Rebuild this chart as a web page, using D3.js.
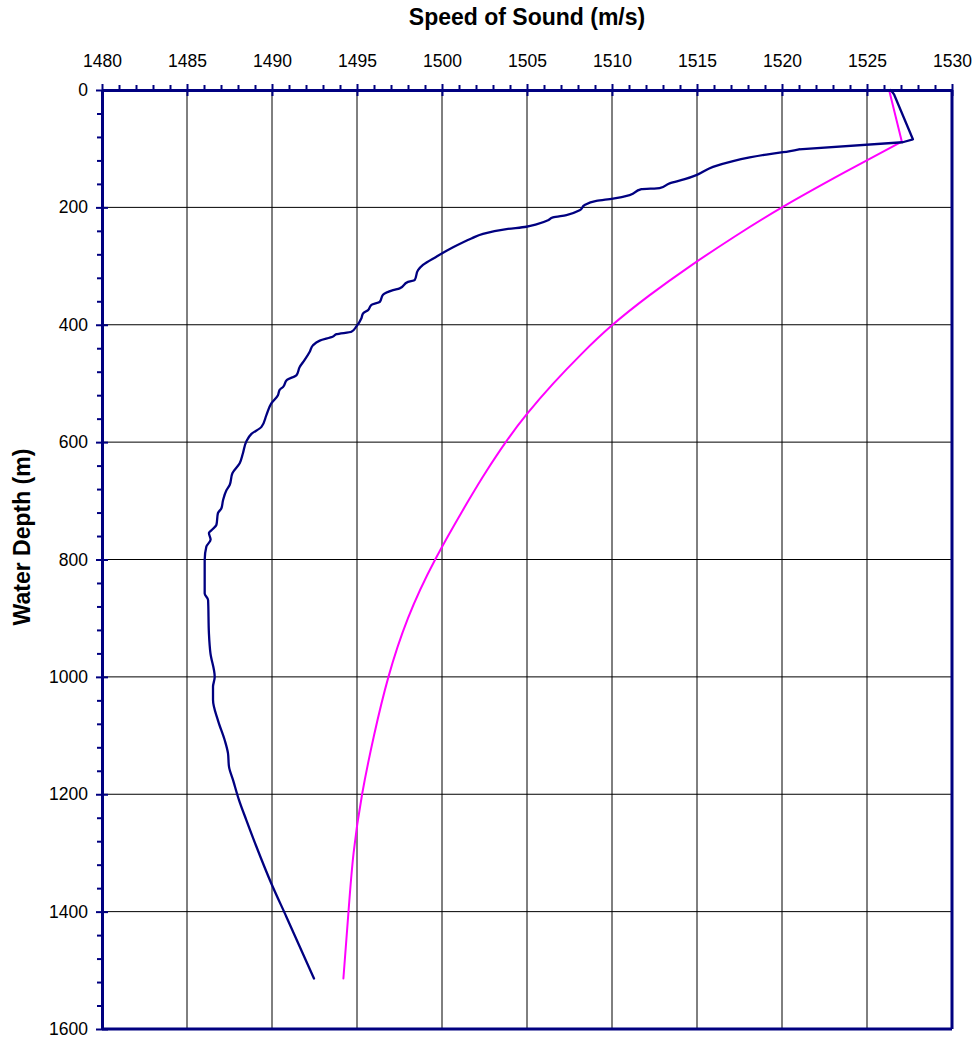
<!DOCTYPE html>
<html>
<head>
<meta charset="utf-8">
<script src="https://cdn.jsdelivr.net/npm/d3@7/dist/d3.min.js"></script>
<style>
  html, body { margin: 0; padding: 0; background: #ffffff; }
  svg { display: block; }
  text { font-family: "Liberation Sans", Arial, sans-serif; fill: #000; }
</style>
</head>
<body>
<svg id="chart" width="979" height="1038"></svg>
<script>
// ---------- data ----------
const xTickValues = [1480, 1485, 1490, 1495, 1500, 1505, 1510, 1515, 1520, 1525, 1530];
const yTickValues = [0, 200, 400, 600, 800, 1000, 1200, 1400, 1600];

// measured profile (navy)
const measuredDepth = [0, 8, 84, 89, 101, 106, 110, 115, 121, 131, 145, 152, 159, 167, 169, 179, 185, 189, 196, 205,
  213, 217, 222, 229, 233, 237, 245, 253, 268, 284, 298, 307, 324, 327, 338, 341, 349, 361, 366, 375,
  381, 389, 403, 412, 416, 420, 427, 435, 446, 460, 472, 486, 494, 506, 511, 520, 534, 554, 574, 586,
  599, 619, 636, 653, 673, 682, 699, 713, 721, 741, 750, 755, 766, 778, 801, 858, 869, 926, 960, 1000,
  1017, 1039, 1074, 1108, 1130, 1153, 1176, 1210, 1244, 1289, 1352, 1409, 1514];
const measuredSpeed = [1526.4, 1526.6, 1527.7, 1527.1, 1521.0, 1520.06, 1519.08, 1518.1, 1517.12, 1515.94, 1514.96, 1514.28, 1513.39, 1512.8, 1511.73, 1511.04, 1510.06, 1509.08, 1508.39, 1508.1,
  1507.32, 1506.53, 1506.24, 1505.55, 1504.96, 1503.79, 1502.41, 1501.73, 1500.65, 1499.67, 1498.88, 1498.59, 1498.39, 1498.0, 1497.51, 1497.12, 1496.53, 1496.34, 1495.85, 1495.65,
  1495.35, 1495.26, 1494.96, 1494.67, 1493.79, 1493.59, 1492.81, 1492.41, 1492.22, 1491.92, 1491.63, 1491.44, 1490.88, 1490.65, 1490.45, 1490.35, 1489.96, 1489.67, 1489.38, 1488.79,
  1488.49, 1488.29, 1488.1, 1487.67, 1487.51, 1487.32, 1487.12, 1487.02, 1486.82, 1486.73, 1486.44, 1486.29, 1486.39, 1486.14, 1486.04, 1486.04, 1486.24, 1486.29, 1486.38, 1486.63,
  1486.53, 1486.53, 1486.82, 1487.22, 1487.41, 1487.47, 1487.71, 1488.06, 1488.49, 1489.08, 1489.96, 1490.85, 1492.47];

// modelled profile (magenta)
const modelDepth = [0, 88, 140, 200, 250, 300, 350, 401, 450, 500, 552, 600, 650, 700, 800, 900,
  1000, 1100, 1200, 1300, 1400, 1514];
const modelSpeed = [1526.3, 1527.05, 1523.7, 1520.0, 1517.2, 1514.6, 1512.2, 1510.0, 1508.2, 1506.55, 1505.0, 1503.75, 1502.6, 1501.55, 1499.6, 1498.0,
  1496.85, 1496.0, 1495.3, 1494.8, 1494.5, 1494.2];

const xTitle = "Speed of Sound (m/s)";
const yTitle = "Water Depth (m)";

// ---------- layout ----------
(function () {
  const svg = d3.select("#chart");
  const pL = 102, pR = 952, pT = 90, pB = 1029;
  const navy = "#000080", magenta = "#ff00ff";
  const fmt = d3.format("d");

  const x = d3.scaleLinear().domain([1480, 1530]).range([pL, pR]);
  const y = d3.scaleLinear().domain([0, 1600]).range([pT, pB]);

  // gridlines
  const grid = svg.append("g");
  grid.selectAll("line.v").data(xTickValues.slice(1, -1)).join("line").attr("class", "v")
    .attr("x1", d => x(d)).attr("x2", d => x(d)).attr("y1", pT).attr("y2", pB)
    .attr("stroke", "#000").attr("stroke-width", 1);
  grid.selectAll("line.h").data(yTickValues.slice(1, -1)).join("line").attr("class", "h")
    .attr("y1", d => y(d)).attr("y2", d => y(d)).attr("x1", pL).attr("x2", pR)
    .attr("stroke", "#000").attr("stroke-width", 1);

  // series: a sharp corner near 85-100 m, smooth below
  const straight = d3.line();
  function profilePath(depths, speeds, breakIndex, curve) {
    const pts = depths.map((d, i) => [x(speeds[i]), y(d)]);
    return straight(pts.slice(0, breakIndex + 1)) + d3.line().curve(curve)(pts.slice(breakIndex));
  }

  svg.append("path").attr("d", profilePath(modelDepth, modelSpeed, 1, d3.curveNatural))
    .attr("fill", "none").attr("stroke", magenta).attr("stroke-width", 2)
    .attr("stroke-linejoin", "round").attr("stroke-linecap", "round");
  svg.append("path").attr("d", profilePath(measuredDepth, measuredSpeed, 4, d3.curveMonotoneY))
    .attr("fill", "none").attr("stroke", navy).attr("stroke-width", 2.3)
    .attr("stroke-linejoin", "round").attr("stroke-linecap", "round");

  // frame (right & bottom)
  svg.append("line").attr("x1", pR).attr("x2", pR).attr("y1", pT).attr("y2", pB)
    .attr("stroke", navy).attr("stroke-width", 3);
  svg.append("line").attr("x1", pL).attr("x2", pR).attr("y1", pB).attr("y2", pB)
    .attr("stroke", navy).attr("stroke-width", 3);

  // x axis (top)
  const xMinor = d3.range(1480, 1531, 1).filter(v => v % 5 !== 0);
  const xMinorAxis = svg.append("g").attr("transform", `translate(0,${pT})`)
    .call(d3.axisTop(x).tickValues(xMinor).tickSize(5).tickFormat(""));
  xMinorAxis.select(".domain").remove();
  xMinorAxis.selectAll("line").attr("stroke", navy).attr("stroke-width", 2);

  const xAxis = svg.append("g").attr("transform", `translate(0,${pT})`)
    .call(d3.axisTop(x).tickValues(xTickValues).tickFormat(fmt).tickSize(6).tickPadding(17).tickSizeOuter(0));
  xAxis.select(".domain").attr("stroke", navy).attr("stroke-width", 3);
  xAxis.selectAll(".tick line").attr("y1", 6).attr("y2", -6).attr("stroke", navy).attr("stroke-width", 2);
  xAxis.selectAll("text").attr("font-size", 17.5).attr("font-family", "Liberation Sans, Arial, sans-serif").attr("fill", "#000");

  // y axis (left)
  const yMinor = d3.range(0, 1601, 40).filter(v => v % 200 !== 0);
  const yMinorAxis = svg.append("g").attr("transform", `translate(${pL},0)`)
    .call(d3.axisLeft(y).tickValues(yMinor).tickSize(5).tickFormat(""));
  yMinorAxis.select(".domain").remove();
  yMinorAxis.selectAll("line").attr("stroke", navy).attr("stroke-width", 2);

  const yAxis = svg.append("g").attr("transform", `translate(${pL},0)`)
    .call(d3.axisLeft(y).tickValues(yTickValues).tickFormat(fmt).tickSize(6).tickPadding(8).tickSizeOuter(0));
  yAxis.select(".domain").attr("stroke", navy).attr("stroke-width", 3);
  yAxis.selectAll(".tick line").attr("x1", 6).attr("x2", -6).attr("stroke", navy).attr("stroke-width", 2);
  yAxis.selectAll("text").attr("font-size", 17.5).attr("font-family", "Liberation Sans, Arial, sans-serif").attr("fill", "#000");

  // titles
  svg.append("text").attr("x", (pL + pR) / 2).attr("y", 25)
    .attr("text-anchor", "middle").attr("font-size", 23).attr("font-weight", "bold")
    .text(xTitle);
  svg.append("text").attr("transform", `translate(30,537) rotate(-90)`)
    .attr("text-anchor", "middle").attr("font-size", 23).attr("font-weight", "bold")
    .text(yTitle);
})();
</script>
</body>
</html>
